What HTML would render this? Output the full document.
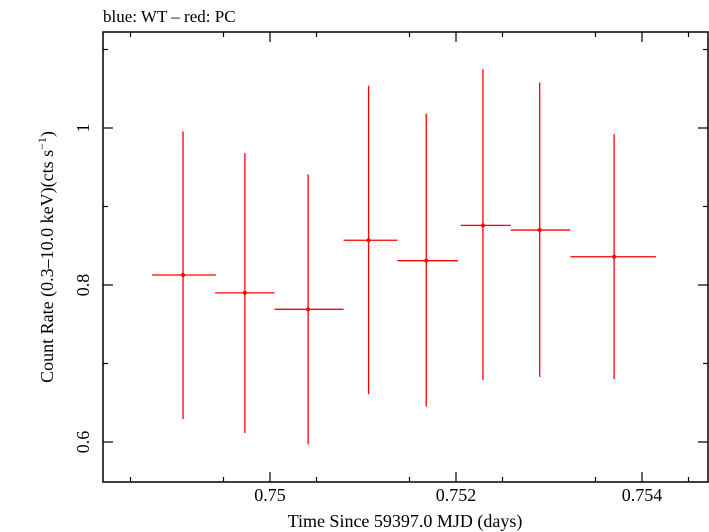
<!DOCTYPE html>
<html><head><meta charset="utf-8"><style>
body{margin:0;background:#fff;}
svg{display:block;font-family:"Liberation Serif",serif;}
</style></head><body>
<svg id="chart" width="709" height="532">
<text x="103" y="22" font-size="17">blue: WT – red: PC</text>
<rect x="103" y="32" width="605" height="450" fill="none" stroke="#000" stroke-width="1.5"/>
<g id="axes"></g>
<g id="marks"></g>
<text x="405" y="527" font-size="18" text-anchor="middle">Time Since 59397.0 MJD (days)</text>
<text transform="translate(53,257) rotate(-90)" font-size="18" text-anchor="middle">Count Rate (0.3–10.0 keV)(cts s<tspan font-size="12" dy="-7">−1</tspan><tspan dy="7">)</tspan></text>
</svg>
<script>
const times=[0.749065,0.74973,0.75041,0.75106,0.75168,0.75229,0.75290,0.75370];
const timeLo=[0.74873,0.74941,0.75005,0.75079,0.75137,0.75205,0.75259,0.75323];
const timeHi=[0.74942,0.75005,0.75079,0.75137,0.75202,0.75259,0.75323,0.75415];
const rates=[0.8127,0.790,0.769,0.857,0.831,0.876,0.870,0.836];
const rateLo=[0.6293,0.6115,0.597,0.661,0.645,0.679,0.683,0.680];
const rateHi=[0.9955,0.968,0.941,1.054,1.018,1.075,1.058,0.992];
const xTicks=[0.75,0.752,0.754];
const xTickLabels=["0.75","0.752","0.754"];
const xMinor=[0.7485,0.7495,0.7505,0.7515,0.7525,0.7535,0.7545];
const yTicks=[0.6,0.8,1.0];
const yTickLabels=["0.6","0.8","1"];
const yMinor=[0.7,0.9,1.1];
const L=103,R=708,T=32,B=482;
const X=v=>270+(v-0.75)*93000;
const Y=v=>285-(v-0.8)*785;
const NS="http://www.w3.org/2000/svg";
const ax=document.getElementById('axes'),mk=document.getElementById('marks');
function ln(p,x1,y1,x2,y2,c,w){const l=document.createElementNS(NS,'line');l.setAttribute('x1',x1);l.setAttribute('y1',y1);l.setAttribute('x2',x2);l.setAttribute('y2',y2);l.setAttribute('stroke',c);l.setAttribute('stroke-width',w);p.appendChild(l);return l;}
function tx(p,x,y,s,rot){const t=document.createElementNS(NS,'text');t.setAttribute('x',x);t.setAttribute('y',y);t.setAttribute('font-size','18');t.setAttribute('text-anchor','middle');if(rot)t.setAttribute('transform',`rotate(-90 ${x} ${y})`);t.textContent=s;p.appendChild(t);return t;}
xTicks.forEach((v,i)=>{const x=X(v);
 let a=ln(ax,x,B,x,B-10,'#000',1.2);
 let b=ln(ax,x,T,x,T+10,'#000',1.2);
 let t=tx(ax,x,501,xTickLabels[i]);});
xMinor.forEach(v=>{const x=X(v);
 let a=ln(ax,x,B,x,B-5,'#000',1.2);
 let b=ln(ax,x,T,x,T+5,'#000',1.2);});
yTicks.forEach((v,i)=>{const y=Y(v);
 let a=ln(ax,L,y,L+10,y,'#000',1.2);
 let b=ln(ax,R,y,R-10,y,'#000',1.2);
 let t=tx(ax,89,y,yTickLabels[i],true);});
yMinor.forEach(v=>{const y=Y(v);
 let a=ln(ax,L,y,L+5,y,'#000',1.2);
 let b=ln(ax,R,y,R-5,y,'#000',1.2);});
times.forEach((v,i)=>{const x=X(v),y=Y(rates[i]);
 let h=ln(mk,X(timeLo[i]),y,X(timeHi[i]),y,'#f00',1.3);
 let e=ln(mk,x,Y(rateHi[i]),x,Y(rateLo[i]),'#f00',1.3);
 const c=document.createElementNS(NS,'circle');c.setAttribute('cx',x);c.setAttribute('cy',y);c.setAttribute('r','2');c.setAttribute('fill','#f00');
 
 
 mk.appendChild(c);});
</script>
</body></html>
